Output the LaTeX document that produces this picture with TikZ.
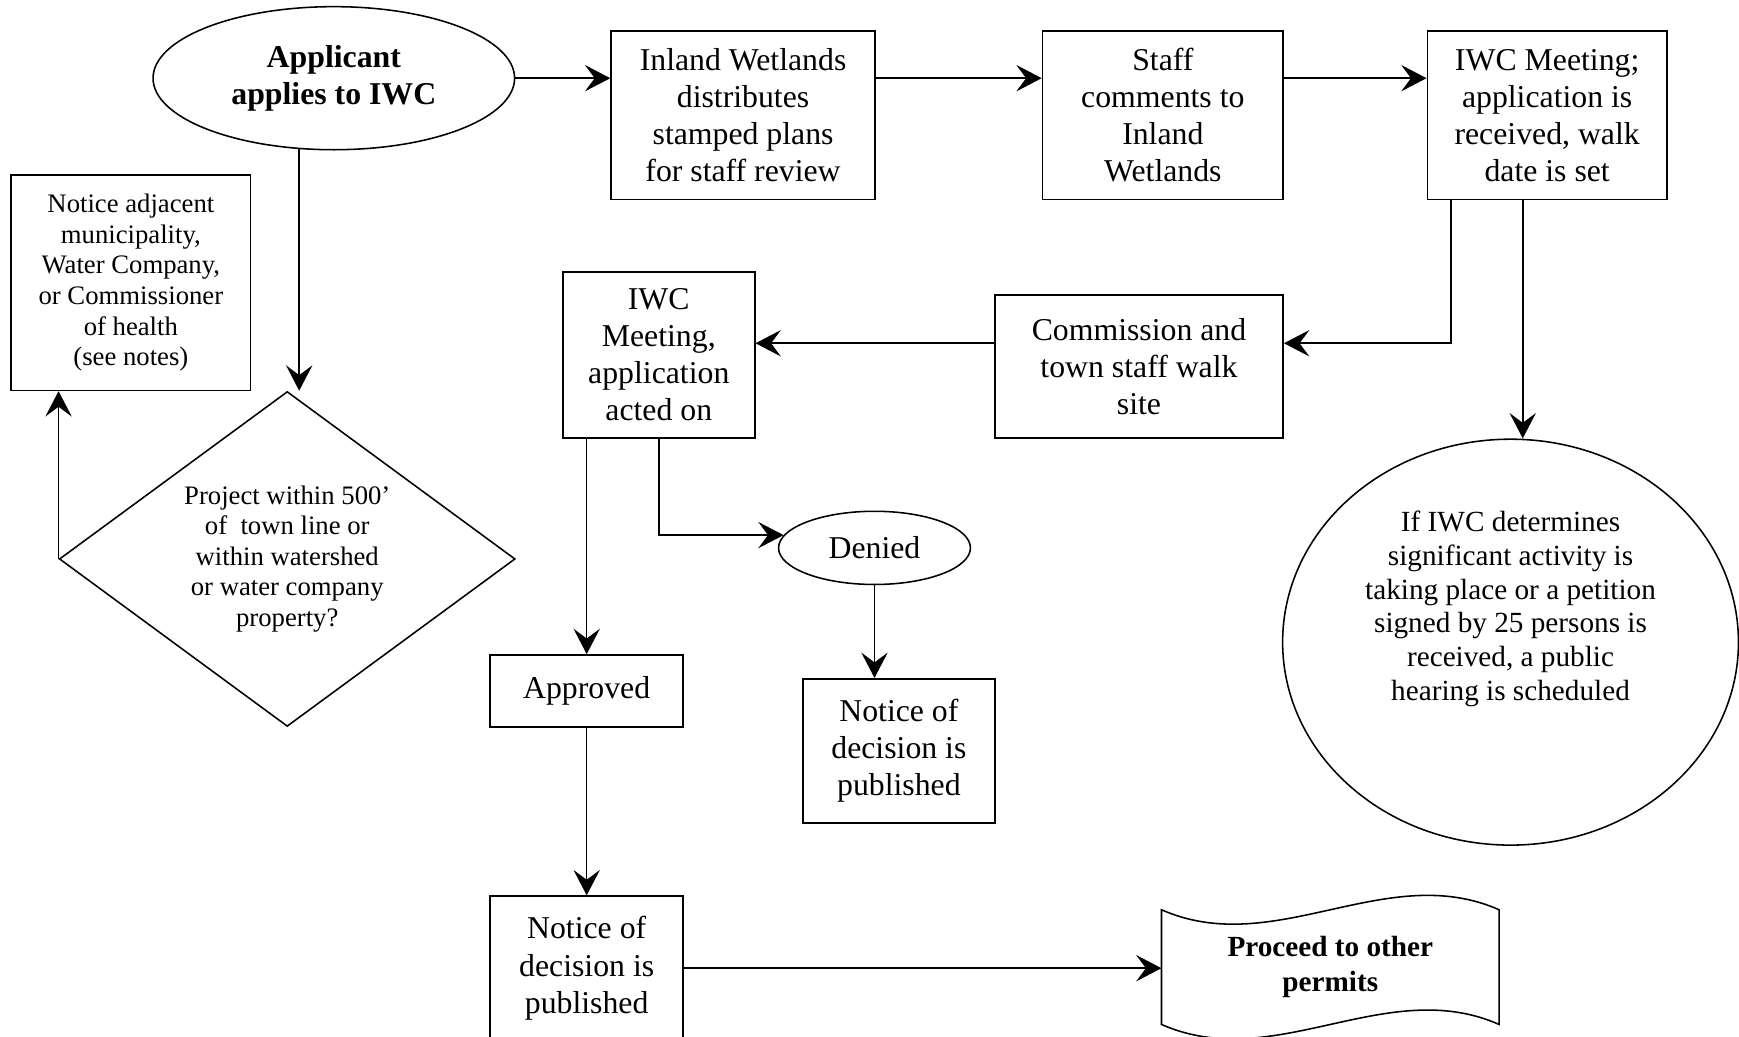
\documentclass[tikz,border=0pt]{standalone}
\usepackage{fontspec}
\setmainfont{Liberation Serif}
\usetikzlibrary{shapes.geometric,arrows.meta}

\newcommand{\boxfont}{\fontsize{16.3}{19}\selectfont}
\newcommand{\notefont}{\fontsize{13.7}{15.7}\selectfont}
\newcommand{\ovalfont}{\fontsize{15}{17.4}\selectfont}

\tikzset{
  box/.style={draw, rectangle, align=center, inner sep=0pt, font=\boxfont},
  smallbox/.style={box, font=\notefont},
  oval/.style={draw, ellipse, align=center, inner sep=0pt, font=\boxfont},
  decision/.style={draw, diamond, aspect=1.4, align=center, inner sep=0pt, font=\notefont},
  arr/.style={-{Stealth[length=13pt,width=13.5pt,inset=5pt]}},
}

\begin{document}
\begin{tikzpicture}[x=0.2mm, y=-0.2mm, line width=0.8pt]
\useasboundingbox (0,0) rectangle (1568,935);

% top row
\node[oval, font=\boxfont\bfseries, minimum width=65.2mm, minimum height=25.8mm] (apply) at (301,70.5) {Applicant\\applies to IWC};
\node[box, minimum width=47.6mm, minimum height=30.4mm] (distribute) at (670,104) {Inland Wetlands\\distributes\\stamped plans\\for staff review};
\node[box, minimum width=43.4mm, minimum height=30.4mm] (comments) at (1048.5,104) {Staff\\comments to\\Inland\\Wetlands};
\node[box, minimum width=43.2mm, minimum height=30.4mm] (meeting) at (1395,104) {IWC Meeting;\\application is\\received, walk\\date is set};

% left side
\node[smallbox, minimum width=43.2mm, minimum height=38.8mm] (notify) at (118,255) {Notice adjacent\\municipality,\\Water Company,\\or Commissioner\\of health\\(see notes)};
\node[decision, minimum width=82.2mm, minimum height=60.4mm] (decide) at (259,504) {Project within 500’\\of~ town line or\\within watershed\\or water company\\property?};

% middle
\node[box, minimum width=34.6mm, minimum height=30mm] (acted) at (594,320) {IWC\\Meeting,\\application\\acted on};
\node[box, minimum width=52mm, minimum height=25.8mm] (walk) at (1027,330.5) {Commission and\\town staff walk\\site};
\node[oval, minimum width=34.6mm, minimum height=13.2mm] (denied) at (788.5,494) {Denied};
\node[box, minimum width=34.8mm, minimum height=13mm] (approved) at (529,623) {Approved};
\node[box, minimum width=34.6mm, minimum height=26mm] (pubdenied) at (810.5,677) {Notice of\\decision is\\published};
\node[box, minimum width=34.8mm, minimum height=26mm] (pubapproved) at (529,873) {Notice of\\decision is\\published};

% right side
\node[oval, font=\ovalfont, minimum width=82.2mm, minimum height=73.2mm] (hearing) at (1362,579) {If IWC determines\\significant activity is\\taking place or a petition\\signed by 25 persons is\\received, a public\\hearing is scheduled\\[20pt]\mbox{}};
\node[align=center, inner sep=0pt, font=\fontsize{15}{17.6}\selectfont\bfseries, minimum width=60.6mm, minimum height=20.4mm] (permits) at (1199.5,872) {Proceed to other\\permits};
\draw (permits.north west) .. controls +(102,45) and +(-102,-45) .. (permits.north east)
  -- (permits.south east) .. controls +(-102,-45) and +(102,45) .. (permits.south west) -- cycle;

% connectors
\coordinate (midrow) at (0,309.5);
\draw[arr] (apply.east) -- (apply.east -| distribute.west);
\draw[arr] (distribute.east |- apply.east) -- (comments.west |- apply.east);
\draw[arr] (comments.east |- apply.east) -- (meeting.west |- apply.east);
\draw[arr] (apply.244) -- (apply.244 |- decide.north);
\draw[arr] (decide.west) -- (decide.west |- notify.south);
\draw[arr] ([xshift=4.4mm]meeting.south west) |- (walk.east |- midrow);
\draw[arr] ([xshift=-4.4mm]meeting.south) -- ([xshift=-4.4mm]meeting.south |- hearing.north);
\draw[arr] (walk.west |- midrow) -- (acted.east |- midrow);
\draw[arr] (acted.south -| approved.north) -- (approved.north);
\draw[arr] (acted.south) |- (denied.172);
\draw[arr] (denied.south) -- (denied.south |- pubdenied.north);
\draw[arr] (approved.south) -- (pubapproved.north);
\draw[arr] (pubapproved.east) -- (pubapproved.east -| permits.west);
\end{tikzpicture}
\end{document}
